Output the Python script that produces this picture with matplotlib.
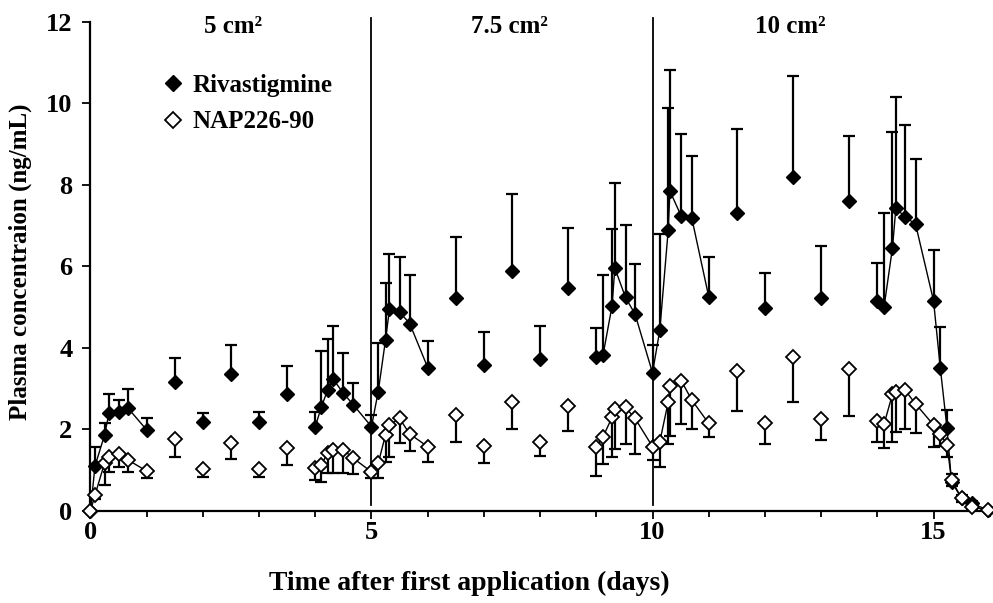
import numpy as np
import matplotlib
matplotlib.use("Agg")
import matplotlib.pyplot as plt
from matplotlib.lines import Line2D

plt.rcParams['font.family'] = ['Liberation Serif', 'DejaVu Serif']
plt.rcParams['font.weight'] = 'bold'

# sampling times (days); run = 0 -> single trough/peak sample, not joined by a line
days = [0, 0.08, 0.25, 0.33, 0.5, 0.67, 1.0,
        1.5, 2.0, 2.5, 3.0, 3.5,
        4.0, 4.11, 4.22, 4.32, 4.5, 4.68, 5.0, 5.12, 5.25, 5.32, 5.5, 5.68, 6.0,
        6.5, 7.0, 7.5, 8.0, 8.5,
        9.0, 9.12, 9.28, 9.33, 9.52, 9.69, 10.0, 10.13, 10.28, 10.31, 10.51, 10.7, 11.0,
        11.5, 12.0, 12.5, 13.0, 13.5,
        14.0, 14.12, 14.27, 14.33, 14.49, 14.68, 15.0, 15.12, 15.24, 15.32, 15.5, 15.68, 15.97]
run = [1]*7 + [0]*5 + [2]*13 + [0]*5 + [3]*13 + [0]*5 + [4]*13

riva = [0, 1.1, 1.86, 2.4, 2.42, 2.52, 1.99,
        3.17, 2.19, 3.36, 2.19, 2.86,
        2.07, 2.56, 2.97, 3.23, 2.89, 2.6, 2.07, 2.93, 4.2, 4.95, 4.88, 4.6, 3.52,
        5.22, 3.57, 5.89, 3.72, 5.46,
        3.77, 3.83, 5.03, 5.96, 5.24, 4.83, 3.39, 4.44, 6.9, 7.85, 7.24, 7.18, 5.26,
        7.31, 4.97, 8.2, 5.22, 7.61,
        5.16, 5.01, 6.46, 7.43, 7.22, 7.04, 5.16, 3.52, 2.03, 0.72, 0.31, 0.19, 0.02]
riva_sd = [0, 0.47, 0.3, 0.47, 0.3, 0.48, 0.29,
           0.58, 0.21, 0.71, 0.25, 0.7,
           0.37, 1.37, 1.24, 1.32, 0.98, 0.55, 0.29, 1.2, 1.4, 1.35, 1.36, 1.2, 0.65,
           1.51, 0.82, 1.88, 0.82, 1.49,
           0.73, 1.96, 1.89, 2.08, 1.78, 1.23, 0.68, 2.36, 2.98, 2.97, 2.01, 1.53, 0.97,
           2.06, 0.86, 2.48, 1.28, 1.59,
           0.93, 2.29, 2.85, 2.72, 2.25, 1.59, 1.24, 1.0, 0.45, 0.18, 0.09, 0.06, 0.03]

nap = [0, 0.39, 1.17, 1.33, 1.41, 1.25, 0.98,
       1.76, 1.02, 1.68, 1.02, 1.54,
       1.05, 1.13, 1.43, 1.5, 1.5, 1.29, 0.96, 1.17, 1.87, 2.11, 2.27, 1.89, 1.58,
       2.36, 1.6, 2.68, 1.7, 2.58,
       1.58, 1.82, 2.3, 2.5, 2.54, 2.27, 1.58, 1.7, 2.68, 3.07, 3.2, 2.72, 2.15,
       3.44, 2.15, 3.79, 2.25, 3.48,
       2.22, 2.13, 2.87, 2.93, 2.97, 2.63, 2.11, 1.9, 1.62, 0.76, 0.31, 0.1, 0.02]
nap_sd = [0, 0.09, 0.53, 0.37, 0.34, 0.29, 0.18,
          0.43, 0.18, 0.41, 0.18, 0.41,
          0.29, 0.41, 0.5, 0.57, 0.57, 0.39, 0.16, 0.37, 0.66, 0.78, 0.61, 0.43, 0.37,
          0.66, 0.43, 0.68, 0.35, 0.61,
          0.71, 0.67, 0.98, 0.98, 0.9, 0.88, 0.33, 0.61, 1.04, 1.23, 1.07, 0.72, 0.33,
          0.99, 0.51, 1.12, 0.51, 1.14,
          0.53, 0.58, 1.18, 1.0, 0.97, 0.72, 0.53, 0.3, 0.3, 0.15, 0.1, 0.05, 0]

patch_labels = ['5 cm²', '7.5 cm²', '10 cm²']
patch_label_x = [2.54, 7.46, 12.45]
patch_change = [5, 10]

days = np.array(days)
run = np.array(run)
riva = np.array(riva)
riva_sd = np.array(riva_sd)
nap = np.array(nap)
nap_sd = np.array(nap_sd)

fig = plt.figure(figsize=(9.93, 6.03), dpi=100)
ax = fig.add_axes([0.0911, 0.1526, 0.909, 0.811])

# error bars: Rivastigmine upward, NAP226-90 downward
ax.errorbar(days, riva, yerr=[np.zeros_like(riva_sd), riva_sd], fmt='none',
            ecolor='black', elinewidth=1.6, capsize=4, capthick=1.6, zorder=2)
ax.errorbar(days, nap, yerr=[nap_sd, np.zeros_like(nap_sd)], fmt='none',
            ecolor='black', elinewidth=1.6, capsize=4, capthick=1.6, zorder=2)

for r in range(1, 5):
    m = run == r
    ax.plot(days[m], riva[m], color='black', lw=1.0, zorder=3)
    ax.plot(days[m], nap[m], color='black', lw=1.0, zorder=3)

ax.plot(days, riva, 'D', ms=7, mfc='black', mec='black', ls='none', zorder=4, clip_on=False)
ax.plot(days, nap, 'D', ms=7, mfc='white', mec='black', mew=1.3, ls='none', zorder=4, clip_on=False)

for xv in patch_change:
    ax.plot([xv, xv], [0.15, 12.1], color='black', lw=1.3, zorder=1, clip_on=False)

for lab, xv in zip(patch_labels, patch_label_x):
    ax.text(xv, 11.9, lab, ha='center', va='center', fontsize=18, fontweight='bold')

ax.set_xlim(0, 16.06)
ax.set_ylim(0, 12)
ax.set_xticks([0, 5, 10, 15])
ax.set_xticks(np.arange(0, 17, 1), minor=True)
ax.set_yticks(np.arange(0, 13, 2))
ax.tick_params(axis='both', which='major', labelsize=19, direction='out', length=6, width=1.3)
ax.tick_params(axis='x', which='minor', direction='out', length=4, width=1.3)
ax.tick_params(axis='x', pad=1)
ax.tick_params(axis='y', pad=7)
for s in ['top', 'right']:
    ax.spines[s].set_visible(False)
for s in ['left', 'bottom']:
    ax.spines[s].set_linewidth(1.6)

fig.text(469 / 993, 1 - 583 / 603, 'Time after first application (days)',
         ha='center', va='center', fontsize=20, fontweight='bold')
fig.text(20 / 993, 1 - 262 / 603, 'Plasma concentraion (ng/mL)', rotation=90,
         ha='center', va='center', fontsize=18, fontweight='bold')

handles = [Line2D([], [], marker='D', ls='none', ms=8.5, mfc='black', mec='black'),
           Line2D([], [], marker='D', ls='none', ms=8.5, mfc='white', mec='black', mew=1.3)]
ax.legend(handles, ['Rivastigmine', 'NAP226-90'], loc='upper left', bbox_to_anchor=(0.066, 0.915),
          frameon=False, fontsize=18, handletextpad=0.3, borderaxespad=0, labelspacing=0.55,
          handlelength=1.0)

fig.savefig('out.png', dpi=100)
